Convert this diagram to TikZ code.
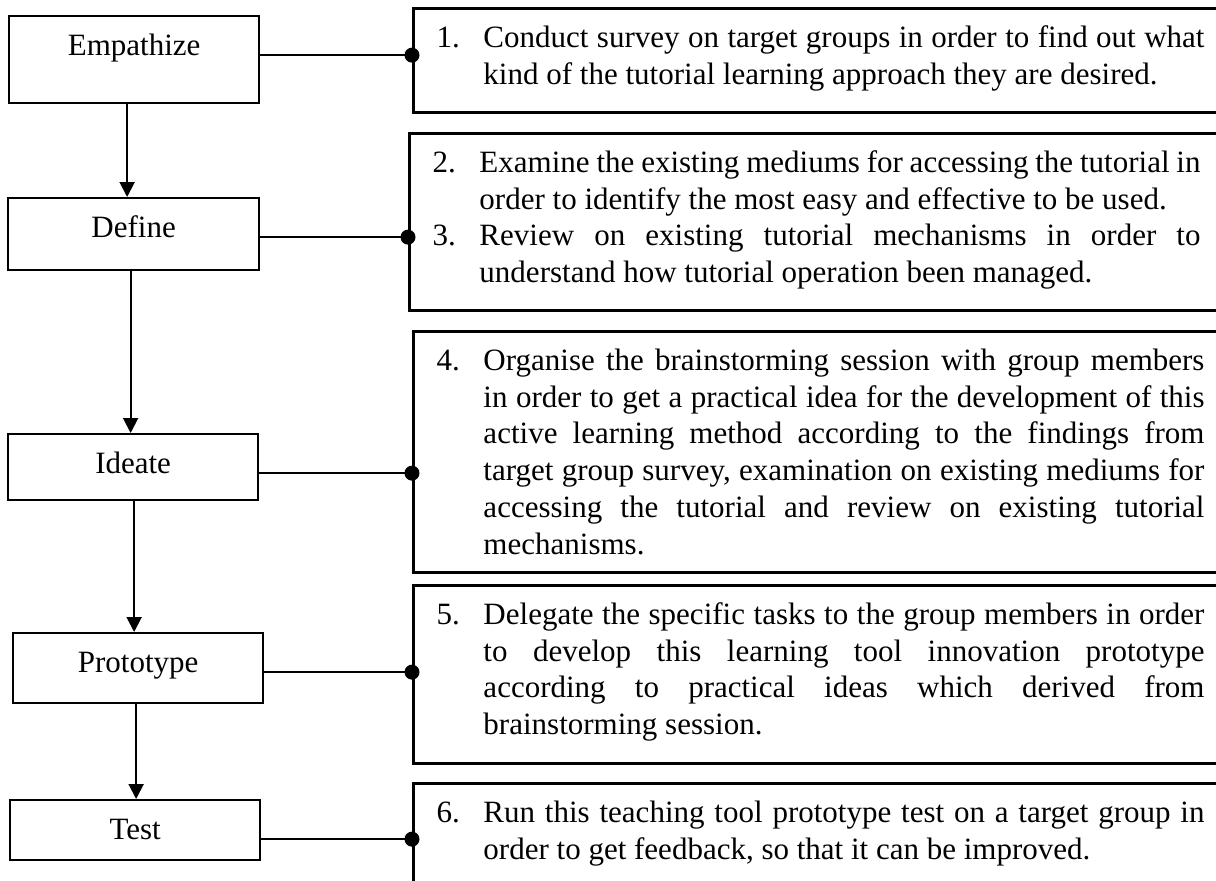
\documentclass[tikz,border=0pt]{standalone}
\usepackage{fontspec}
\setmainfont{Liberation Serif}
\usetikzlibrary{arrows.meta}
\newlength{\upx}
\setlength{\upx}{0.4pt}
\newcommand{\stepitem}[2]{\noindent\hangindent=47\upx\hangafter=1\makebox[47\upx][l]{#1}#2\par}
\tikzset{
  stage/.style={draw, line width=0.9pt, anchor=north west, inner sep=0pt, minimum width=250\upx, text height=39\upx},
  note/.style={draw, line width=1.2pt, anchor=north west, inner xsep=23\upx, inner ysep=0pt, text width=768\upx, align=justify, text height=39\upx,
    execute at begin node={\tolerance=10000\hyphenpenalty=10000\parskip=0pt}},
  flow/.style={-{Triangle[length=6pt, width=6pt]}, line width=0.8pt},
  link/.style={-{Circle[length=6pt]}, line width=0.8pt, shorten >=-3pt},
}
\begin{document}
\begin{tikzpicture}[x=\upx, y=-\upx, font=\fontsize{12.4pt}{14.68pt}\selectfont]
    \useasboundingbox (0,0) rectangle (1216,881);
    \clip (0,0) rectangle (1216,881);
    % design thinking stages
    \node[stage, text depth=48\upx] (emp) at (8,15) {Empathize};
    \node[stage, text depth=33\upx, minimum width=251\upx] (def) at (7,197) {Define};
    \node[stage, text depth=27\upx] (ide) at (7,433) {Ideate};
    \node[stage, text depth=31\upx] (pro) at (12,632) {Prototype};
    \node[stage, text depth=21\upx] (tst) at (9,799) {Test};
    % activities
    \node[note, text depth=65\upx] (act1) at (412,7) {\stepitem{1.}{Conduct survey on target groups in order to find out what\linebreak kind of the tutorial learning approach they are desired.}};
    \node[note, text depth=138\upx] (act2) at (408,132) {\stepitem{2.}{Examine the existing mediums for accessing the tutorial in\linebreak order to identify the most easy and effective to be used.}\stepitem{3.}{Review on existing tutorial mechanisms in order to\linebreak understand how tutorial operation been managed.}};
    \node[note, text depth=202\upx] (act3) at (412,330) {\stepitem{4.}{Organise the brainstorming session with group members\linebreak in order to get a practical idea for the development of this\linebreak active learning method according to the findings from\linebreak target group survey, examination on existing mediums for\linebreak accessing the tutorial and review on existing tutorial\linebreak mechanisms.}};
    \node[note, text depth=139\upx] (act4) at (412,584) {\stepitem{5.}{Delegate the specific tasks to the group members in order\linebreak to develop this learning tool innovation prototype\linebreak according to practical ideas which derived from\linebreak brainstorming session.}};
    \node[note, text depth=120\upx] (act5) at (412,782) {\stepitem{6.}{Run this teaching tool prototype test on a target group in\linebreak order to get feedback, so that it can be improved.}};
    % stage flow
    \coordinate (f1) at ([xshift=-7\upx]emp.south);
    \coordinate (f2) at ([xshift=-3\upx]def.south);
    \coordinate (f3) at ([xshift=1\upx]ide.south);
    \coordinate (f4) at ([xshift=-2\upx]pro.south);
    \draw[flow] (f1) -- (f1 |- def.north);
    \draw[flow] (f2) -- (f2 |- ide.north);
    \draw[flow] (f3) -- (f3 |- pro.north);
    \draw[flow] (f4) -- (f4 |- tst.north);
    % links to activities
    \draw[link] (emp.base -| emp.east) -- (emp.base -| act1.west);
    \draw[link] (def.base -| def.east) -- (def.base -| act2.west);
    \draw[link] (ide.base -| ide.east) -- (ide.base -| act3.west);
    \draw[link] (pro.base -| pro.east) -- (pro.base -| act4.west);
    \draw[link] (tst.base -| tst.east) -- (tst.base -| act5.west);
\end{tikzpicture}
\end{document}
